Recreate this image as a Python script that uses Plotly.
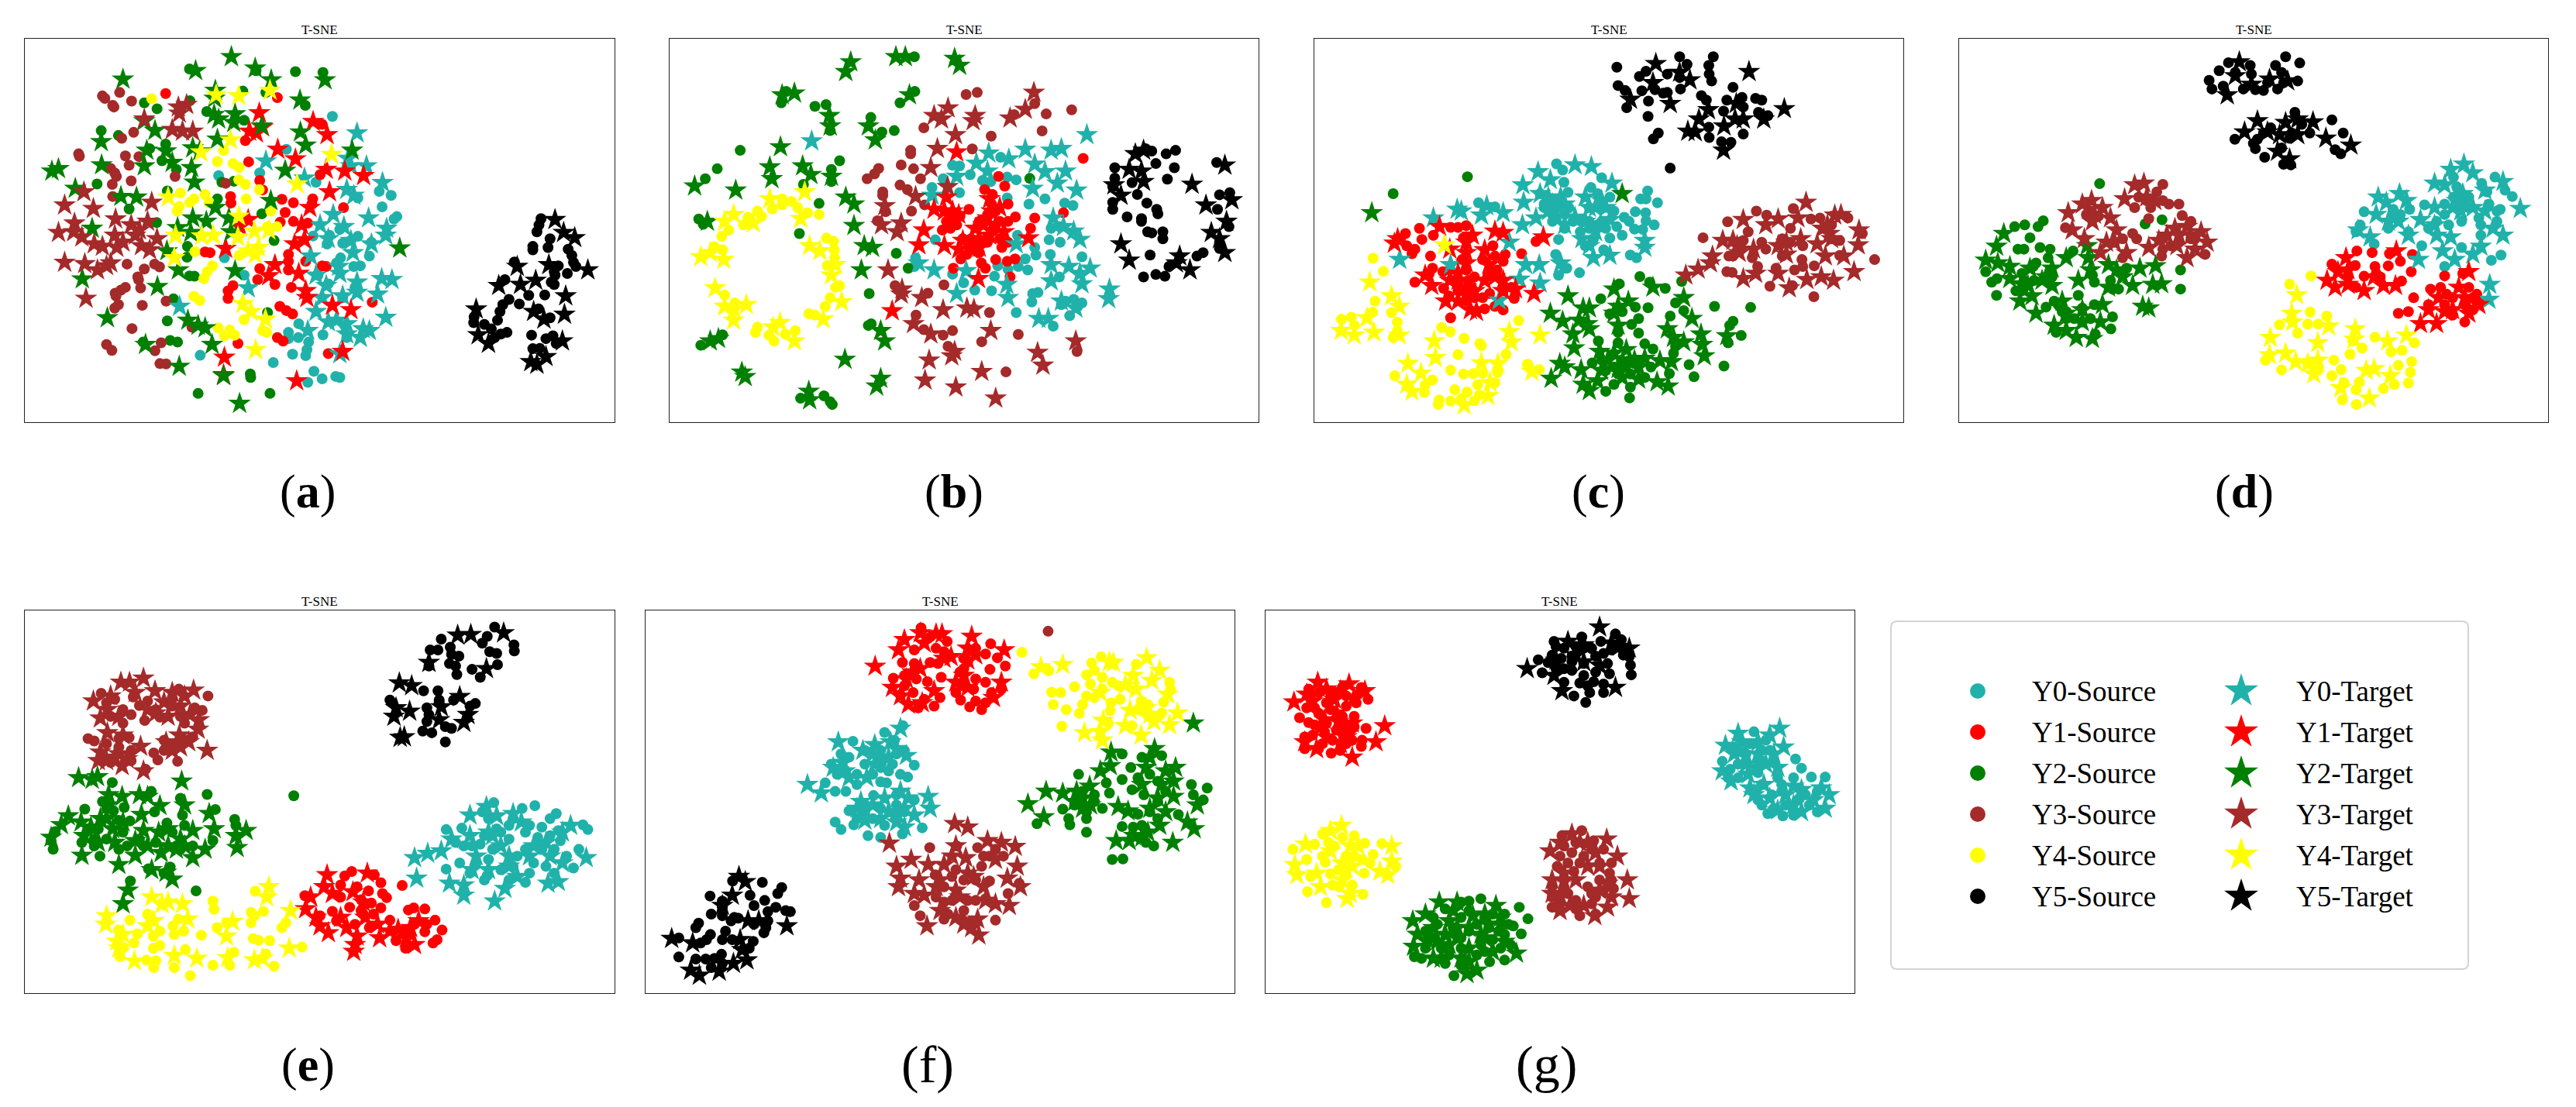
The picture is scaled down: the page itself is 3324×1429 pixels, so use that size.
import plotly.graph_objects as go

W, H = 3324, 1429
CLASS_NAMES = ["Y0", "Y1", "Y2", "Y3", "Y4", "Y5"]
COLORS = ["#20B2AA", "#FF0000", "#008000", "#A52A2A", "#FFFF00", "#000000"]

# Values, in each panel's own plot units. s = Source, t = Target.
a0s = [(810,337),(698,432),(633,500),(533,508),(770,527),(924,553),(953,565),(872,572),(931,598),(967,626),(960,633),(828,663),(763,682),(803,680),(797,705),(835,703),(872,683),(855,695),(905,700),(900,740),(878,768),(862,770),(820,760),(830,745),(547,745),(595,795),(775,795),(800,820),(835,860),(865,830),(703,960),(703,978),(728,935),(727,975),(787,967),(752,988),(748,1010),(745,1027),(713,1023),(488,1026),(666,1047),(765,1072),(785,1094),(750,1104),(818,1087),(828,1090),(840,940),(845,975)]
a0t = [(870,385),(648,466),(848,458),(893,480),(855,480),(742,515),(932,528),(845,548),(862,565),(812,620),(898,630),(780,650),(838,655),(942,660),(940,680),(800,690),(855,695),(905,705),(757,740),(860,730),(825,770),(770,795),(828,790),(930,805),(955,808),(870,815),(605,832),(795,825),(920,850),(870,845),(835,855),(785,860),(770,900),(940,917),(800,930),(820,925),(845,935),(885,950),(900,955),(750,955),(878,975),(845,965),(828,1022),(438,885)]
a1s = [(404,271),(676,283),(785,360),(598,407),(606,468),(633,522),(640,549),(562,568),(563,587),(687,576),(715,586),(762,575),(760,590),(837,600),(695,614),(683,642),(715,640),(750,645),(500,728),(512,730),(703,735),(703,755),(703,780),(745,755),(785,768),(795,770),(633,776),(628,808),(670,822),(710,830),(568,825),(556,840),(556,862),(907,873),(682,885),(698,897),(713,907),(676,975),(690,985),(580,992),(800,1021),(780,505)]
a1t = [(632,327),(763,352),(797,390),(608,380),(625,385),(640,368),(677,432),(720,460),(795,490),(840,495),(886,508),(803,555),(755,600),(735,650),(605,635),(585,655),(742,693),(718,705),(550,718),(670,765),(655,797),(728,790),(745,840),(748,860),(810,882),(855,895),(547,1032),(723,1100),(835,1015),(545,1082)]
a2s = [(462,200),(624,205),(720,208),(787,210),(592,264),(648,268),(352,298),(463,292),(383,315),(744,305),(504,323),(595,348),(247,378),(289,392),(404,417),(365,430),(395,465),(430,490),(237,532),(570,524),(541,527),(408,552),(530,575),(315,604),(638,618),(382,643),(668,695),(457,712),(456,743),(462,797),(474,798),(423,863),(652,903),(408,927),(415,983),(433,988),(349,988),(610,1080),(611,1090),(483,1136),(658,1136)]
a2t = [(564,165),(477,205),(622,198),(300,230),(661,232),(792,232),(525,262),(523,285),(731,290),(573,330),(522,332),(533,345),(570,355),(352,350),(378,378),(638,365),(732,382),(247,410),(530,403),(745,420),(858,435),(358,435),(470,428),(487,437),(405,437),(420,470),(248,477),(143,488),(127,495),(352,480),(467,485),(695,493),(474,527),(184,545),(295,568),(333,570),(660,580),(525,600),(470,630),(503,640),(558,630),(225,660),(433,658),(465,672),(563,670),(407,725),(974,717),(435,780),(573,782),(201,806),(384,828),(262,918),(458,925),(483,940),(500,947),(517,995),(355,995),(437,1058),(545,1085),(584,1165)]
a3s = [(292,268),(250,278),(256,285),(321,293),(275,305),(278,310),(326,383),(297,400),(192,445),(194,452),(306,451),(339,453),(315,478),(270,487),(280,500),(284,510),(427,510),(320,523),(274,533),(550,530),(275,568),(310,763),(352,777),(377,763),(389,771),(336,800),(338,808),(343,832),(306,830),(295,838),(281,847),(283,855),(405,870),(347,882),(289,880),(280,890),(322,949),(260,995),(273,1012),(393,990),(378,1013),(390,1050),(405,1051),(468,945)]
a3t = [(352,345),(435,310),(455,303),(437,328),(420,375),(445,380),(470,380),(205,555),(370,585),(158,593),(228,603),(282,633),(182,645),(360,640),(320,650),(143,672),(180,670),(200,685),(340,665),(330,680),(280,680),(230,705),(250,712),(300,700),(285,715),(383,690),(345,710),(365,722),(158,758),(207,762),(238,780),(260,768),(270,760),(210,862)]
a4s = [(370,286),(545,435),(530,467),(568,473),(583,484),(582,520),(598,533),(632,548),(440,558),(600,575),(500,562),(473,575),(463,585),(510,585),(437,597),(432,610),(660,610),(675,655),(652,655),(475,727),(583,738),(518,768),(505,785),(497,805),(473,856),(487,868),(532,947),(560,953),(547,970),(572,968),(595,923),(640,955),(650,960)]
a4t = [(527,275),(582,278),(658,262),(562,405),(490,440),(808,447),(724,532),(410,570),(582,625),(655,665),(620,668),(428,680),(492,682),(520,680),(580,685),(630,715),(605,725),(622,735),(425,745),(592,877),(612,900),(647,922),(623,1010)]
a5s = [(1318,632),(1313,650),(1308,670),(1340,690),(1335,715),(1298,712),(1298,722),(1384,720),(1393,738),(1397,758),(1403,770),(1253,757),(1360,768),(1350,785),(1352,795),(1382,790),(1230,808),(1343,815),(1350,822),(1288,853),(1327,852),(1240,865),(1225,880),(1265,878),(1218,900),(1212,925),(1155,915),(1154,932),(1180,937),(1197,950),(1235,960),(1220,965),(1205,975),(1295,968),(1330,978),(1347,970),(1355,992),(1298,1007),(1315,1006),(1312,892),(1340,918)]
a5t = [(1352,635),(1373,672),(1400,687),(1337,765),(1260,770),(1432,780),(1305,810),(1268,822),(1215,825),(1378,855),(1160,893),(1300,900),(1325,922),(1375,908),(1165,967),(1190,992),(1370,985),(1330,1030),(1293,1045),(1308,1052)]

b0s = [(735,478),(752,480),(852,455),(712,517),(778,505),(808,522),(828,525),(868,512),(890,520),(685,542),(752,557),(868,572),(921,590),(960,575),(1008,587),(1028,594),(975,660),(995,655),(970,693),(997,700),(893,680),(693,693),(935,715),(938,737),(973,735),(1050,742),(912,748),(895,770),(918,780),(845,768),(870,778),(645,745),(642,770),(735,792),(837,798),(762,817),(995,800),(789,838),(830,840),(930,848),(943,845),(928,872),(890,903),(1010,870),(1030,865),(1050,875),(1040,885),(1020,912),(980,942),(1000,880)]
b0t = [(392,408),(1062,390),(912,432),(975,435),(1000,430),(823,443),(872,460),(793,472),(935,475),(1010,495),(745,510),(820,495),(960,497),(990,530),(930,545),(1037,550),(685,565),(980,630),(1005,655),(1030,668),(1045,692),(890,705),(652,760),(690,780),(768,782),(975,765),(1018,770),(1070,775),(1045,790),(975,812),(1050,820),(867,822),(1117,835),(1115,863),(870,860),(745,848),(1000,870),(1035,890),(945,920),(968,920)]
b1s = [(1053,458),(847,510),(862,538),(813,548),(832,562),(870,590),(775,605),(740,630),(1005,615),(935,630),(925,660),(888,627),(870,640),(753,625),(710,665),(745,650),(835,660),(800,640),(820,620),(855,715),(755,748),(805,760),(815,775),(840,750),(887,748),(868,755),(737,775),(875,800),(780,715),(810,700),(850,690),(720,640),(760,690),(780,690),(840,610),(850,640),(820,700),(800,730),(770,735),(730,660),(830,590),(870,700)]
b1t = [(745,440),(720,570),(690,605),(825,575),(850,600),(715,610),(735,630),(820,630),(790,660),(665,665),(860,670),(920,688),(653,708),(715,710),(760,695),(780,720),(800,715),(798,805),(588,898),(825,680),(750,620),(800,690),(840,650),(735,610),(830,610),(750,720),(810,650)]
b2s = [(318,298),(330,265),(400,308),(427,303),(437,378),(536,340),(563,382),(593,378),(643,265),(607,298),(642,165),(218,435),(162,488),(133,517),(460,465),(440,490),(440,525),(372,533),(410,588),(117,633),(128,648),(362,675),(598,732),(627,775),(532,848),(537,935),(530,940),(122,997),(175,967),(422,1143),(437,1160),(442,1168),(365,1150),(923,516)]
b2t = [(487,180),(475,208),(597,165),(620,165),(740,170),(752,190),(630,275),(320,275),(350,270),(435,335),(437,365),(530,365),(547,405),(316,425),(290,483),(295,517),(370,480),(390,505),(440,510),(107,538),(207,550),(475,570),(495,590),(138,640),(495,652),(520,710),(540,715),(513,780),(560,955),(570,985),(145,985),(165,978),(473,1038),(222,1075),(230,1088),(560,1093),(550,1115),(385,1130),(387,1155)]
b3s = [(768,274),(795,268),(935,300),(1025,318),(963,330),(885,332),(665,370),(953,379),(829,394),(783,431),(633,435),(633,445),(610,477),(640,488),(555,487),(545,503),(527,517),(657,517),(607,535),(625,548),(565,555),(565,565),(667,592),(572,612),(635,610),(552,638),(595,825),(714,823),(675,847),(825,903),(646,910),(665,952),(735,955),(712,968),(895,966),(806,987),(724,1000),(1038,1015),(865,1074)]
b3t = [(933,268),(724,313),(912,317),(690,335),(708,345),(790,335),(785,350),(875,342),(742,390),(698,430),(682,485),(723,540),(645,568),(570,595),(562,650),(610,645),(600,670),(578,780),(612,835),(610,850),(660,860),(712,895),(770,890),(787,893),(640,935),(682,965),(828,955),(1035,985),(740,1015),(733,1028),(942,1018),(955,1055),(678,1040),(806,1073),(668,1098),(743,1118),(840,1150)]
b4s = [(320,575),(343,582),(320,592),(296,604),(358,600),(382,615),(410,620),(260,610),(270,625),(237,628),(226,650),(190,665),(173,683),(428,688),(445,697),(447,722),(448,745),(430,767),(155,713),(175,722),(460,825),(450,830),(437,860),(425,885),(385,906),(400,910),(180,852),(205,875),(260,945),(255,960),(288,968),(300,985),(328,965),(352,955)]
b4t = [(375,555),(290,575),(202,620),(180,640),(250,645),(365,632),(387,710),(412,725),(450,765),(440,795),(122,742),(145,730),(178,750),(157,832),(465,872),(180,885),(203,893),(233,880),(420,922),(202,925),(315,932),(298,945),(350,985)]
b5s = [(1205,430),(1220,437),(1255,445),(1278,435),(1230,473),(1378,470),(1130,485),(1275,485),(1130,515),(1258,518),(1172,528),(1125,540),(1185,562),(1385,563),(1410,557),(1125,585),(1125,605),(1208,587),(1232,605),(1235,618),(1380,605),(1160,627),(1195,632),(1195,640),(1210,670),(1220,673),(1247,670),(1247,690),(1408,655),(1216,737),(1345,730),(1330,740),(1262,770),(1200,800),(1230,793),(1252,798),(1385,700),(1385,718)]
b5t = [(1200,435),(1180,445),(1165,490),(1195,495),(1200,525),(1128,535),(1145,565),(1398,478),(1318,533),(1352,593),(1415,578),(1402,640),(1365,672),(1385,690),(1398,730),(1145,705),(1165,752),(1288,740),(1280,760),(1313,780)]

c0s = [(620,474),(635,492),(730,514),(638,527),(704,542),(648,556),(842,552),(825,575),(838,575),(866,586),(750,570),(580,560),(620,580),(700,600),(735,600),(812,612),(837,615),(760,610),(785,628),(797,640),(838,638),(858,650),(810,662),(830,663),(767,655),(720,650),(640,660),(625,692),(678,670),(710,690),(750,688),(780,680),(735,722),(690,710),(800,737),(815,745),(618,735),(640,775),(645,775),(625,795),(676,788),(430,586),(470,598),(610,620),(660,640),(620,600),(590,600),(650,600),(610,640),(700,640),(730,640),(700,660),(680,640),(720,560),(640,620),(590,590),(740,660)]
c0t = [(665,477),(705,482),(575,497),(605,520),(538,535),(755,530),(580,560),(690,570),(540,585),(630,570),(640,590),(378,605),(388,610),(450,595),(437,622),(490,615),(320,630),(537,650),(570,630),(620,625),(665,628),(750,635),(715,600),(505,700),(682,690),(715,670),(835,695),(835,715),(710,745),(750,738),(238,750),(362,765),(545,765),(578,765),(630,760),(530,807),(580,818),(480,867),(610,590),(600,610),(700,600),(730,580),(690,640),(740,600),(600,570),(640,650),(700,710)]
c1s = [(286,660),(252,675),(240,690),(320,680),(362,657),(380,657),(400,652),(292,692),(255,710),(275,720),(268,733),(393,687),(570,698),(535,733),(313,740),(318,775),(343,785),(310,790),(275,815),(465,710),(495,735),(440,750),(490,755),(405,810),(475,780),(345,833),(358,855),(457,848),(517,862),(445,892),(490,895),(362,918),(380,840),(420,860),(470,885),(400,780),(380,820),(400,850),(420,800),(460,790),(470,740),(360,780),(400,870),(440,860),(490,840),(510,830),(370,810),(390,750)]
c1t = [(335,655),(225,703),(233,690),(415,680),(470,668),(490,672),(588,685),(400,730),(445,722),(360,720),(400,760),(455,765),(380,790),(300,795),(316,825),(445,810),(490,810),(520,835),(420,840),(565,848),(380,870),(410,895),(425,900),(360,810),(400,700),(380,810),(400,830),(470,800),(350,870),(490,840)]
c2s = [(403,511),(222,560),(823,799),(847,815),(773,820),(925,813),(885,833),(728,863),(843,889),(1005,885),(1093,888),(812,887),(750,907),(897,913),(930,897),(910,875),(820,920),(803,937),(1050,928),(1042,940),(722,985),(820,962),(1070,969),(1038,990),(835,993),(855,1008),(905,1020),(778,1040),(707,1048),(943,1053),(1028,1057),(895,1079),(955,1088),(835,1090),(740,1130),(800,1118),(798,1149),(760,1060),(800,1080),(730,1040),(770,1080),(810,1050),(780,900),(770,960),(770,990),(740,1070),(850,1060),(910,1000),(760,1110),(800,1040)]
c2t = [(170,615),(780,560),(855,830),(760,835),(648,855),(930,860),(685,890),(700,890),(605,905),(770,885),(795,870),(635,928),(675,925),(695,935),(660,965),(770,940),(950,920),(890,950),(972,965),(905,975),(930,988),(975,995),(1035,970),(663,1005),(725,1015),(790,1010),(980,1028),(745,1040),(835,1035),(872,1042),(900,1045),(628,1050),(640,1060),(680,1068),(730,1070),(790,1060),(607,1093),(685,1110),(700,1128),(720,1100),(780,1090),(820,1095),(865,1103),(892,1115),(760,1020),(810,1040),(770,1065),(820,1060),(760,905),(700,950)]
c3s = [(1107,610),(1197,603),(1132,622),(1037,641),(1240,633),(1262,630),(1330,630),(1087,670),(977,687),(1190,660),(1365,675),(1220,710),(1075,695),(1040,740),(1097,745),(1310,695),(1395,750),(1248,768),(1218,750),(1035,785),(1048,787),(1155,775),(1310,738),(1140,827),(1195,825),(1247,857),(1220,770),(1120,700),(1170,690),(1270,660),(1290,690),(1190,700),(1170,740),(1070,720),(1050,740),(1290,650),(1110,770),(1200,780),(1130,720)]
c3t = [(1228,585),(1075,635),(1298,622),(1313,620),(1160,633),(1208,630),(1130,650),(1268,660),(1285,675),(1357,665),(1050,695),(1025,695),(1215,690),(1160,710),(1255,705),(1355,708),(1000,740),(1065,730),(1180,735),(1275,740),(1320,740),(965,778),(995,760),(1105,790),(1075,805),(1345,785),(935,795),(1160,790),(1230,808),(1265,800),(1295,810),(1187,832),(1100,720),(1280,650),(1180,700),(1060,710),(1290,690)]
c4s = [(173,746),(198,784),(178,870),(218,903),(172,902),(96,922),(120,916),(128,940),(232,930),(528,926),(340,946),(361,958),(222,975),(232,955),(395,977),(433,992),(437,998),(380,1024),(497,1023),(549,1052),(578,1067),(362,1069),(393,1080),(417,1079),(440,1078),(226,1085),(476,1075),(318,1097),(300,1112),(470,1105),(428,1111),(372,1125),(402,1132),(298,1133),(432,1140),(334,1155),(332,1168),(362,1158),(388,1152),(420,1157)]
c4t = [(347,708),(165,815),(218,855),(237,885),(158,918),(95,955),(127,968),(175,960),(237,968),(505,958),(580,968),(510,988),(322,985),(325,1033),(258,1050),(437,1048),(477,1050),(560,1073),(290,1078),(255,1110),(268,1130),(458,1105),(453,1143),(395,1170)]
c5s = [(920,165),(1002,165),(767,195),(938,187),(991,190),(838,207),(822,222),(890,215),(992,215),(920,225),(998,235),(770,248),(787,262),(828,263),(922,258),(1050,253),(890,268),(973,277),(985,290),(844,293),(1072,282),(1105,285),(1120,290),(1035,290),(1075,310),(791,312),(1027,322),(1112,325),(1135,335),(843,337),(991,368),(868,385),(856,402),(1075,388),(992,398),(1022,410),(1045,412),(897,486),(880,270),(860,260)]
c5t = [(862,185),(1089,208),(920,210),(945,232),(855,240),(800,288),(897,300),(990,318),(1058,300),(1175,315),(967,345),(1055,345),(1075,345),(1125,345),(1028,365),(940,380),(958,382),(1027,435)]

d0s = [(1365,512),(1262,512),(1332,530),(1345,555),(1390,550),(1408,568),(1378,605),(1262,570),(1280,575),(1190,592),(1040,612),(1153,605),(1112,605),(1030,650),(1020,670),(1100,660),(1150,670),(1220,640),(1282,640),(1325,630),(1370,640),(1330,680),(1183,710),(1282,715),(1065,705),(1380,737),(1356,752),(1240,770),(1290,590),(1240,590),(1300,600),(1270,540),(1240,620),(1300,570),(1350,590),(1200,660),(1110,630),(1130,620),(1330,650),(1370,610),(1250,650)]
d0t = [(1288,475),(1255,490),(1310,500),(1385,525),(1215,530),(1240,535),(1285,560),(1075,570),(1128,560),(1340,550),(1428,603),(1145,580),(1095,585),(1215,600),(1070,620),(1180,635),(1280,610),(1340,610),(1125,640),(1025,665),(1055,685),(1215,650),(1385,680),(1255,685),(1330,712),(1235,725),(1265,750),(1310,735),(1175,750),(1352,822),(1350,865),(1260,600),(1310,600),(1150,680),(1100,640),(1220,680),(1360,660),(1270,580)]
d1s = [(1022,725),(1060,730),(1103,733),(1160,735),(960,763),(1018,767),(1100,768),(1157,785),(1040,798),(1067,770),(1240,797),(1285,790),(1205,835),(1230,830),(1163,860),(1125,905),(1150,900),(1300,830),(1330,870),(1320,850),(1290,930),(1240,880),(1310,895),(1130,755),(1020,830),(1133,812),(1245,850),(1260,860),(1290,880),(1200,880),(1310,860),(1080,800),(1000,800),(1070,790),(1260,910)]
d1t = [(1120,725),(995,745),(975,785),(948,810),(968,830),(1000,822),(1040,840),(1088,825),(1118,825),(1065,800),(1300,785),(1275,830),(1225,860),(1200,895),(1260,895),(1180,935),(1220,935),(1325,880),(1240,900),(1300,905),(1290,860),(1000,780)]
d2s = [(243,638),(172,655),(197,650),(230,655),(210,687),(180,720),(195,720),(235,715),(260,720),(218,770),(255,745),(317,725),(100,785),(128,805),(115,815),(127,853),(195,810),(175,840),(260,790),(370,815),(365,795),(415,835),(430,835),(450,775),(330,853),(250,887),(280,880),(320,920),(415,915),(411,950),(372,965),(275,960),(584,780),(584,835),(383,531),(496,647),(538,635),(300,900),(225,760),(190,840),(220,810),(190,790),(270,870),(290,900),(340,890),(370,880),(340,930),(265,800),(300,920),(360,920),(410,810)]
d2t = [(145,675),(127,712),(100,752),(130,760),(160,770),(352,710),(300,745),(355,745),(210,775),(265,775),(360,780),(405,765),(425,780),(330,810),(483,775),(522,768),(160,805),(265,825),(205,825),(405,830),(465,825),(515,822),(537,820),(215,855),(185,870),(390,880),(225,905),(340,895),(490,885),(505,890),(270,940),(300,955),(325,975),(365,978),(385,930),(240,810),(290,870),(340,930),(300,905),(250,800),(190,820),(440,800)]
d3s = [(540,533),(480,570),(525,555),(470,600),(580,590),(555,590),(510,600),(588,623),(505,632),(298,658),(380,625),(465,675),(475,690),(645,735),(537,740),(440,745),(610,640),(540,690),(560,710),(540,580),(500,580),(360,610),(420,700),(440,690),(580,700),(610,690),(540,720),(620,690),(350,620)]
d3t = [(493,530),(470,535),(363,580),(340,590),(305,615),(390,600),(445,575),(410,630),(365,640),(425,665),(315,665),(345,690),(600,655),(635,670),(570,660),(530,695),(650,700),(575,710),(620,720),(600,745),(505,715),(450,730),(400,700),(385,730),(520,580),(550,680),(580,680),(610,680),(420,700),(370,620),(500,570)]
d4s = [(908,797),(855,821),(906,901),(947,913),(830,938),(900,936),(926,936),(875,962),(1067,974),(1165,990),(1035,1005),(1005,1023),(1107,1016),(1134,1012),(795,1040),(835,1068),(965,1040),(983,1067),(960,1085),(1125,1055),(1158,1044),(1155,1075),(990,1105),(1028,1103),(1020,1125),(1115,1110),(1150,1106),(1088,1122),(986,1155),(1021,1168),(1012,985),(925,1070)]
d4t = [(873,852),(860,905),(862,930),(952,942),(1018,950),(807,975),(925,990),(1098,985),(1145,968),(1015,980),(805,1025),(845,1020),(870,1045),(900,1050),(925,1040),(915,1080),(1045,1070),(1065,1065),(1105,1085),(982,1120),(1053,1150)]
d5s = [(845,165),(880,183),(703,182),(757,190),(820,190),(680,205),(835,210),(760,215),(875,235),(655,233),(740,258),(662,258),(790,262),(825,258),(690,250),(868,325),(960,347),(885,360),(988,385),(905,385),(719,403),(808,370),(775,403),(765,415),(770,430),(855,400),(793,455),(968,433),(982,445),(835,428),(840,475),(858,477),(720,210),(800,240),(770,260),(840,240),(860,385),(790,385)]
d5t = [(730,180),(720,220),(805,230),(850,235),(760,245),(700,275),(775,350),(845,355),(875,345),(913,353),(743,382),(800,382),(830,390),(875,390),(945,400),(1007,420),(825,438),(855,460)]

e0s = [(1203,673),(1272,690),(1303,682),(1355,705),(1340,720),(1320,745),(1175,700),(1250,720),(1290,740),(1125,748),(1087,752),(1360,755),(1420,738),(1432,752),(1210,750),(1110,790),(1170,795),(1280,810),(1240,780),(1130,800),(1365,785),(1410,810),(1380,830),(1087,868),(1160,850),(1187,887),(1280,907),(1397,865),(1330,860),(1250,860),(1300,850),(1145,880),(1240,900),(1190,720),(1220,760),(1180,770),(1150,800),(1200,810),(1240,740),(1280,760),(1310,775),(1340,770),(1190,840),(1220,870),(1260,830),(1320,810),(1350,810),(1180,900),(1290,880),(1120,850),(1350,880)]
e0t = [(1185,685),(1145,710),(1250,705),(1210,712),(1390,740),(1145,770),(1100,780),(1075,815),(1042,822),(1010,835),(1015,895),(1428,835),(1095,910),(1130,915),(1130,945),(1205,962),(1230,925),(1335,910),(1360,905),(1190,760),(1240,830),(1300,800),(1370,760),(1160,830),(1340,830),(1200,770),(1270,730),(1220,800),(1290,830),(1190,870),(1260,890),(1330,790),(1150,870),(1370,850),(1240,860)]
e1s = [(857,875),(840,888),(980,916),(912,885),(928,908),(830,915),(898,932),(932,940),(942,952),(743,946),(880,958),(852,980),(928,982),(905,968),(1008,982),(1035,985),(810,992),(885,1000),(995,988),(780,1005),(1060,1018),(950,1018),(865,1030),(1077,1047),(1040,1030),(1065,1075),(1055,1085),(965,1078),(988,1100),(1035,1052),(870,920),(880,990),(910,1000),(820,1020),(900,1040),(1000,1060),(985,1050),(1010,1030),(830,950)]
e1t = [(797,885),(895,880),(790,920),(810,940),(860,935),(757,950),(745,985),(770,1010),(780,1035),(800,1055),(845,1040),(870,1065),(920,1030),(925,1070),(865,1090),(862,1110),(970,1045),(1010,1090),(1000,1040),(1020,1020),(885,965),(890,1010),(830,1010),(950,1050),(990,1070)]
e2s = [(274,614),(505,649),(716,653),(440,660),(369,640),(207,692),(525,693),(303,687),(277,697),(445,710),(377,700),(572,722),(317,727),(290,725),(407,733),(575,740),(450,740),(135,758),(125,785),(130,810),(519,784),(244,830),(290,810),(200,790),(230,800),(415,862),(362,867),(318,903),(478,932),(400,880),(430,800),(350,800),(240,750),(260,780),(300,760),(340,780),(380,790),(420,760),(440,810),(470,800),(250,670),(260,690),(230,780),(310,800)]
e2t = [(192,600),(225,605),(238,597),(443,610),(265,650),(298,655),(340,650),(360,655),(390,682),(450,680),(345,708),(510,705),(167,712),(245,720),(198,730),(150,738),(125,775),(222,745),(275,750),(350,755),(387,760),(470,755),(522,750),(600,755),(575,770),(205,770),(330,785),(280,790),(440,780),(578,805),(500,810),(200,828),(290,855),(330,828),(393,820),(470,835),(430,810),(370,870),(405,878),(420,898),(312,930),(300,970),(260,720),(300,730),(410,800),(240,790),(265,680),(450,800),(360,800),(410,750)]
e3s = [(247,352),(325,363),(436,340),(507,360),(260,380),(340,388),(360,375),(493,402),(300,400),(390,422),(320,415),(353,432),(420,390),(475,395),(315,482),(215,485),(230,492),(290,485),(470,480),(400,490),(375,527),(385,548),(433,552),(320,550),(355,575),(260,500),(455,490),(280,370),(300,440),(420,370),(450,440),(440,420),(270,420),(400,520),(290,510),(270,555),(320,520),(430,500),(380,400)]
e3t = [(350,308),(295,320),(316,320),(378,345),(472,343),(228,375),(400,378),(262,400),(440,390),(245,425),(290,420),(410,420),(485,430),(463,415),(262,468),(300,475),(483,458),(437,475),(405,495),(460,495),(343,508),(505,520),(245,525),(290,530),(420,520),(260,550),(298,565),(350,580),(240,550),(330,350),(270,360),(360,400),(420,350),(440,510),(310,545),(380,410),(450,360),(280,540)]
e4s = [(622,933),(519,962),(522,986),(642,992),(612,995),(620,1005),(612,1025),(360,1000),(317,1018),(697,1025),(687,1040),(435,1015),(552,1025),(422,1035),(289,1047),(390,1050),(529,1040),(335,1058),(374,1065),(425,1060),(448,1050),(491,1062),(617,1072),(630,1077),(657,1078),(327,1085),(390,1092),(374,1100),(302,1098),(452,1104),(736,1097),(570,1112),(648,1117),(293,1125),(357,1135),(380,1137),(375,1157),(425,1157),(519,1150),(560,1150),(668,1153),(464,1181)]
e4t = [(655,920),(650,950),(370,950),(395,970),(410,965),(445,970),(260,1005),(258,1030),(708,990),(375,1020),(360,1035),(458,1015),(567,1022),(552,1065),(285,1080),(300,1060),(290,1100),(705,1100),(425,1122),(480,1130),(555,1128),(328,1138),(620,1135),(640,1130)]
e5s = [(1205,158),(1075,193),(1187,185),(1175,205),(1252,210),(1253,228),(1048,225),(1067,225),(1097,217),(1193,230),(1210,235),(1100,238),(1118,243),(1095,265),(1110,272),(1212,268),(1045,272),(1150,282),(1170,305),(1113,297),(1032,345),(1067,345),(1070,372),(950,372),(1105,372),(1158,382),(1145,390),(1040,395),(1045,415),(1040,435),(1100,455),(1085,450),(1030,463),(1052,468),(1085,495),(1070,380)]
e5t = [(1115,182),(1147,180),(1227,175),(1045,262),(1185,280),(973,322),(1003,330),(1120,362),(965,395),(998,405),(1075,392),(960,420),(1140,415),(1130,438),(1070,430),(975,482),(985,480)]

f0s = [(650,467),(696,447),(570,493),(675,490),(600,520),(540,530),(515,560),(725,563),(640,570),(708,598),(500,615),(640,612),(655,615),(525,640),(552,640),(622,652),(725,665),(560,697),(525,730),(572,738),(540,752),(745,747),(608,770),(640,775),(695,765),(600,700),(680,680),(580,590),(670,560),(560,540),(600,560),(640,520),(680,530),(700,520),(530,590),(580,620),(620,590),(660,580),(690,590),(640,690),(680,650),(700,700),(650,740),(620,720),(580,720),(600,680)]
f0t = [(690,455),(533,495),(625,503),(595,520),(665,495),(705,535),(545,555),(625,560),(605,600),(455,620),(490,645),(690,640),(760,655),(765,690),(590,670),(650,660),(710,660),(660,700),(725,710),(600,725),(680,730),(700,745),(560,600),(640,540),(680,515),(620,530),(550,580),(520,570),(660,540),(680,700),(640,720),(620,680),(700,690),(580,690)]
f1s = [(742,160),(808,200),(918,207),(725,225),(780,220),(695,262),(725,265),(765,262),(785,265),(905,237),(935,248),(955,272),(916,282),(672,308),(793,305),(840,290),(758,318),(722,350),(690,357),(875,340),(905,320),(945,340),(790,365),(842,372),(880,375),(775,390),(735,395),(865,392),(905,380),(895,400),(760,190),(800,230),(860,260),(880,220),(850,250),(700,300),(730,310),(850,330),(880,310),(920,350),(750,370),(700,330),(830,350),(850,280)]
f1t = [(740,175),(700,195),(780,178),(795,178),(870,185),(685,225),(860,220),(880,240),(952,225),(818,245),(626,273),(740,280),(850,300),(705,310),(830,320),(670,335),(945,320),(775,345),(925,365),(710,385),(745,380),(860,335),(720,290),(860,255),(750,205),(800,250),(690,360)]
f2s = [(1140,590),(1250,530),(1300,540),(1350,535),(1272,570),(1250,605),(1210,615),(1425,620),(1465,630),(1218,645),(1275,635),(1305,650),(1430,650),(1455,665),(1100,692),(1160,700),(1115,720),(1118,738),(1035,735),(1290,707),(1392,708),(1250,743),(1278,745),(1160,760),(1330,800),(1225,840),(1252,838),(1310,790),(1340,670),(1150,640),(1180,670),(1200,690),(1130,680),(1320,590),(1290,600),(1340,610),(1360,640),(1320,700),(1340,720),(1300,740),(1160,720),(1180,650)]
f2t = [(1222,525),(1332,515),(1195,580),(1220,565),(1385,570),(1310,570),(1380,610),(1058,640),(1100,645),(1135,640),(1168,625),(1012,677),(1150,660),(1240,685),(1265,698),(1340,660),(1380,655),(1440,680),(1052,715),(1150,690),(1345,740),(1415,730),(1432,750),(1430,440),(1235,785),(1268,785),(1378,790),(1315,760),(1300,775),(1130,670),(1170,680),(1350,620),(1320,540),(1300,620),(1320,690),(1360,580),(1280,770),(1360,700)]
f3s = [(1063,170),(764,805),(832,800),(885,805),(915,830),(990,910),(778,885),(830,870),(915,903),(962,940),(725,975),(800,965),(905,955),(740,1005),(800,1015),(930,1018),(850,1020),(880,900),(895,860),(820,890),(800,920),(850,900),(860,960),(900,830),(930,810),(950,830),(820,960),(850,990),(780,950),(880,960),(870,1020),(810,1000)]
f3t = [(827,735),(860,745),(662,792),(830,800),(910,785),(945,790),(980,802),(717,840),(680,860),(760,855),(800,855),(985,860),(855,835),(690,895),(737,900),(960,895),(685,920),(875,890),(993,920),(725,940),(750,945),(830,930),(905,960),(965,975),(790,990),(830,1010),(757,1035),(885,1015),(870,1040),(888,1062),(790,900),(860,880),(820,830),(930,840),(840,950),(780,920),(900,920),(930,970),(850,1030)]
f4s = [(997,232),(1197,245),(1173,263),(1286,267),(1180,285),(1160,298),(1027,295),(1065,286),(1200,305),(1225,320),(1170,325),(1130,333),(1072,349),(1095,350),(1370,320),(1372,340),(1160,360),(1150,385),(1222,380),(1245,370),(1076,385),(1355,378),(1298,375),(1315,385),(1109,400),(1142,411),(1220,403),(1350,410),(1098,449),(1275,447),(1215,440),(1310,410),(1330,420),(1290,400),(1200,340),(1180,365),(1240,330)]
f4t = [(1045,275),(1100,268),(1218,260),(1228,262),(1312,248),(1345,285),(1278,300),(1325,315),(1258,328),(1285,340),(1195,350),(1365,355),(1270,402),(1320,415),(1390,410),(1330,435),(1370,445),(1202,432),(1258,447),(1155,468),(1195,465),(1200,490),(1298,475),(1310,395)]
f5s = [(266,903),(341,907),(390,922),(380,940),(209,947),(310,945),(347,960),(320,975),(240,962),(375,980),(400,990),(412,993),(212,1000),(240,1005),(280,1012),(262,1020),(355,993),(355,1020),(180,1027),(173,1040),(248,1050),(350,1040),(345,1055),(130,1070),(210,1060),(240,1075),(318,1080),(308,1100),(130,1126),(173,1132),(198,1132),(238,1118),(212,1157),(240,1145),(185,1085),(265,1075),(240,980),(200,1075),(270,1010),(320,1030),(220,1130)]
f5t = [(282,890),(298,905),(265,945),(240,975),(305,1020),(332,1020),(403,1035),(112,1072),(165,1085),(285,1075),(290,1105),(302,1135),(268,1145),(160,1165),(182,1180),(232,1168)]

g0s = [(1280,465),(1385,545),(1200,552),(1400,572),(1425,598),(1460,598),(1215,600),(1250,525),(1300,520),(1350,620),(1280,640),(1315,705),(1353,712),(1440,700),(1380,710),(1300,680),(1350,640),(1410,650),(1240,560),(1300,550),(1380,600),(1230,510),(1270,500),(1320,520),(1260,550),(1290,585),(1330,545),(1220,575),(1310,490),(1240,600),(1340,600),(1300,620),(1325,650),(1290,665),(1360,680),(1395,660),(1420,680),(1440,640),(1330,690),(1260,530)]
g0t = [(1345,455),(1320,475),(1250,495),(1208,505),(1355,510),(1290,495),(1230,530),(1200,580),(1222,610),(1285,570),(1340,570),(1450,630),(1470,650),(1280,650),(1320,660),(1380,625),(1400,700),(1460,690),(1330,530),(1265,590),(1240,470),(1290,530),(1260,560),(1310,560),(1360,650),(1340,695),(1400,635),(1430,665),(1380,680),(1305,620),(1270,630)]
g1s = [(288,335),(305,370),(240,335),(155,340),(160,370),(132,424),(155,438),(270,420),(195,465),(300,455),(290,490),(145,480),(165,475),(145,515),(212,528),(288,508),(235,520),(180,515),(240,470),(180,410),(250,390),(200,380),(180,350),(210,350),(250,360),(275,380),(210,400),(170,395),(240,420),(200,440),(250,445),(225,460),(270,450),(215,490),(250,500),(170,445),(190,500),(265,490),(280,355),(150,395)]
g1t = [(178,320),(257,325),(297,345),(150,355),(118,378),(220,370),(347,448),(325,495),(265,540),(175,515),(195,430),(255,470),(230,435),(250,480),(200,340),(235,345),(270,365),(165,375),(185,450),(225,410),(265,440),(235,500),(200,480),(145,495)]
g2s = [(590,955),(560,962),(540,965),(687,980),(709,1014),(650,1000),(672,1035),(692,1058),(540,1010),(480,1030),(600,1010),(635,1050),(470,1070),(540,1100),(590,1090),(422,1125),(500,1145),(612,1140),(650,1135),(522,1181),(450,1100),(640,1100),(560,1050),(500,985),(560,990),(620,1000),(660,1030),(520,1040),(580,1030),(610,1040),(450,1050),(490,1100),(540,1070),(620,1075),(665,1090),(440,1130),(580,1120),(540,1150),(510,1120),(600,1110),(470,1010),(650,1060)]
g2t = [(485,965),(530,965),(628,975),(450,1000),(418,1020),(600,1000),(510,1020),(430,1060),(560,1040),(640,1030),(420,1095),(480,1080),(530,1070),(600,1070),(680,1115),(470,1130),(540,1130),(580,1165),(555,1175),(650,1080),(500,1060),(520,990),(570,1005),(640,1010),(470,1040),(590,1060),(510,1090),(560,1100),(620,1110),(455,1075),(560,1140),(610,1030),(490,1130),(530,1040)]
g3s = [(845,755),(795,770),(875,785),(810,850),(783,860),(825,875),(915,880),(890,900),(800,800),(850,830),(900,810),(770,950),(780,980),(840,1005),(880,1000),(870,940),(925,925),(800,920),(830,960),(830,790),(870,810),(790,830),(840,850),(890,850),(920,850),(770,920),(810,940),(860,920),(900,930),(790,970),(830,985),(870,970),(800,900),(770,980),(920,900),(880,950),(820,820)]
g3t = [(820,765),(908,780),(765,815),(935,830),(880,820),(770,900),(960,900),(965,955),(790,990),(910,980),(878,1005),(830,900),(860,860),(790,945),(920,950),(840,790),(790,790),(860,790),(800,880),(910,910),(850,975),(815,975),(890,930),(770,940),(890,860)]
g4s = [(115,810),(190,765),(270,770),(240,775),(170,795),(297,792),(340,793),(318,825),(150,840),(197,848),(290,840),(375,860),(210,882),(160,890),(295,880),(265,915),(232,920),(152,934),(200,966),(292,942),(250,850),(220,800),(250,830),(230,870),(270,830),(205,790),(190,830),(250,885),(310,850),(215,915)]
g4t = [(238,740),(210,755),(147,795),(365,800),(260,800),(210,815),(120,855),(240,850),(365,845),(175,880),(335,875),(355,885),(125,885),(185,920),(252,955),(260,940),(265,860),(240,900),(280,800)]
g5s = [(930,178),(845,187),(775,200),(945,195),(893,200),(850,220),(820,243),(880,243),(965,245),(793,250),(735,254),(760,262),(968,270),(910,265),(850,265),(820,285),(745,292),(915,295),(970,298),(840,322),(875,318),(800,320),(900,325),(825,360),(865,350),(900,350),(855,379),(780,215),(800,220),(830,215),(870,220),(920,225),(945,220),(780,280),(850,300),(880,290),(800,280),(900,235),(950,240),(770,240),(860,330),(820,260)]
g5t = [(890,158),(810,200),(920,205),(965,220),(850,210),(707,280),(775,300),(795,345),(930,335),(850,260),(830,240),(890,270),(780,255),(940,215)]

SOURCES = {"a": [a0s,a1s,a2s,a3s,a4s,a5s], "b": [b0s,b1s,b2s,b3s,b4s,b5s], "c": [c0s,c1s,c2s,c3s,c4s,c5s],
           "d": [d0s,d1s,d2s,d3s,d4s,d5s], "e": [e0s,e1s,e2s,e3s,e4s,e5s], "f": [f0s,f1s,f2s,f3s,f4s,f5s],
           "g": [g0s,g1s,g2s,g3s,g4s,g5s]}
TARGETS = {"a": [a0t,a1t,a2t,a3t,a4t,a5t], "b": [b0t,b1t,b2t,b3t,b4t,b5t], "c": [c0t,c1t,c2t,c3t,c4t,c5t],
           "d": [d0t,d1t,d2t,d3t,d4t,d5t], "e": [e0t,e1t,e2t,e3t,e4t,e5t], "f": [f0t,f1t,f2t,f3t,f4t,f5t],
           "g": [g0t,g1t,g2t,g3t,g4t,g5t]}

# layout: panel, pixel box (l, r, t, b), axis ranges (x0, x1, ytop, ybottom), label centre (x, y), bold, label size
PANELS = [
    ("a", (32, 793, 50, 545), (61, 1497, 113, 1219), (397, 634), True, 62),
    ("b", (864, 1624, 50, 545), (46, 1480, 113, 1219), (1231, 634), True, 62),
    ("c", (1696, 2456, 50, 545), (30, 1465, 113, 1219), (2062, 634), True, 62),
    ("d", (2528, 3288, 50, 545), (34, 1497, 113, 1219), (2896, 634), True, 62),
    ("e", (32, 793, 788, 1282), (61, 1497, 109, 1232), (397, 1374), True, 62),
    ("f", (833, 1593, 788, 1282), (46, 1534, 109, 1232), (1197, 1374), False, 68),
    ("g", (1633, 2393, 788, 1282), (46, 1534, 109, 1232), (1995, 1374), False, 68),
]
SOURCE_SIZE = 14
TARGET_SIZE = 22
FONT = "Liberation Serif"

fig = go.Figure()
layout = {}
annotations = []


def px(v):
    return v / W


def py(v):
    return 1 - v / H


for i, (name, (l, r, t, b), (x0, x1, yt, yb), (lx, ly), bold, lsize) in enumerate(PANELS):
    n = i + 1
    suffix = "" if n == 1 else str(n)
    common = dict(showgrid=False, zeroline=False, showticklabels=False, ticks="", showline=True,
                  linecolor="#222222", linewidth=1, mirror=True)
    layout["xaxis" + suffix] = dict(domain=[px(l), px(r)], range=[x0, x1], anchor="y" + suffix, **common)
    layout["yaxis" + suffix] = dict(domain=[py(b), py(t)], range=[yb, yt], anchor="x" + suffix, **common)
    for group, symbol, size, label in ((SOURCES, "circle", SOURCE_SIZE, "Source"), (TARGETS, "star", TARGET_SIZE, "Target")):
        for k, pts in enumerate(group[name]):
            fig.add_trace(go.Scatter(
                x=[p[0] for p in pts], y=[p[1] for p in pts], mode="markers",
                name=f"{CLASS_NAMES[k]}-{label}", xaxis="x" + suffix, yaxis="y" + suffix,
                marker=dict(symbol=symbol, size=size, color=COLORS[k], line=dict(width=0)),
                showlegend=False, hoverinfo="skip"))
    annotations.append(dict(text="T-SNE", x=px((l + r) / 2), y=py(t - 11), xref="paper", yref="paper",
                            showarrow=False, xanchor="center", yanchor="middle",
                            font=dict(family=FONT, size=17, color="#000")))
    inner = f"<b>{name}</b>" if bold else name
    annotations.append(dict(text=f"({inner})", x=px(lx), y=py(ly), xref="paper", yref="paper",
                            showarrow=False, xanchor="center", yanchor="middle",
                            font=dict(family=FONT, size=lsize, color="#000")))

# Legend panel drawn in its own pixel-scaled axes
LEG_L, LEG_R, LEG_T, LEG_B = 2440, 3185, 802, 1251
LEG_ROWS = [892, 945, 998, 1051, 1104, 1157]
LEG_X_SOURCE, LEG_X_TARGET = 2552, 2892
LEG_TXT_SOURCE, LEG_TXT_TARGET = 2620, 2961
n = len(PANELS) + 1
layout[f"xaxis{n}"] = dict(domain=[px(LEG_L), px(LEG_R)], range=[LEG_L, LEG_R], visible=False, anchor=f"y{n}")
layout[f"yaxis{n}"] = dict(domain=[py(LEG_B), py(LEG_T)], range=[LEG_B, LEG_T], visible=False, anchor=f"x{n}")
for k, row in enumerate(LEG_ROWS):
    fig.add_trace(go.Scatter(x=[LEG_X_SOURCE], y=[row], mode="markers", xaxis=f"x{n}", yaxis=f"y{n}",
                             marker=dict(symbol="circle", size=20, color=COLORS[k], line=dict(width=0)),
                             showlegend=False, hoverinfo="skip"))
    fig.add_trace(go.Scatter(x=[LEG_X_TARGET], y=[row], mode="markers", xaxis=f"x{n}", yaxis=f"y{n}",
                             marker=dict(symbol="star", size=33, color=COLORS[k], line=dict(width=0)),
                             showlegend=False, hoverinfo="skip"))
    for tx, label in ((LEG_TXT_SOURCE, "Source"), (LEG_TXT_TARGET, "Target")):
        annotations.append(dict(text=f"{CLASS_NAMES[k]}-{label}", x=px(tx), y=py(row), xref="paper", yref="paper",
                                showarrow=False, xanchor="left", yanchor="middle",
                                font=dict(family=FONT, size=37, color="#000")))

rad = 8
a, b_, c, d = px(LEG_L), px(LEG_R), py(LEG_T), py(LEG_B)
rx, ry = rad / W, rad / H
box_path = (f"M{a+rx},{c} L{b_-rx},{c} Q{b_},{c} {b_},{c-ry} L{b_},{d+ry} Q{b_},{d} {b_-rx},{d} "
            f"L{a+rx},{d} Q{a},{d} {a},{d+ry} L{a},{c-ry} Q{a},{c} {a+rx},{c} Z")

fig.update_layout(width=W, height=H, margin=dict(l=0, r=0, t=0, b=0), autosize=False,
                  paper_bgcolor="white", plot_bgcolor="white", showlegend=False,
                  annotations=annotations,
                  shapes=[dict(type="path", path=box_path, xref="paper", yref="paper",
                               line=dict(color="#d3d3d3", width=2), fillcolor="rgba(0,0,0,0)")],
                  **layout)
fig.write_html("out.html", post_script="document.body.style.margin='0';document.body.style.overflow='hidden';",
               config={"displayModeBar": False})
